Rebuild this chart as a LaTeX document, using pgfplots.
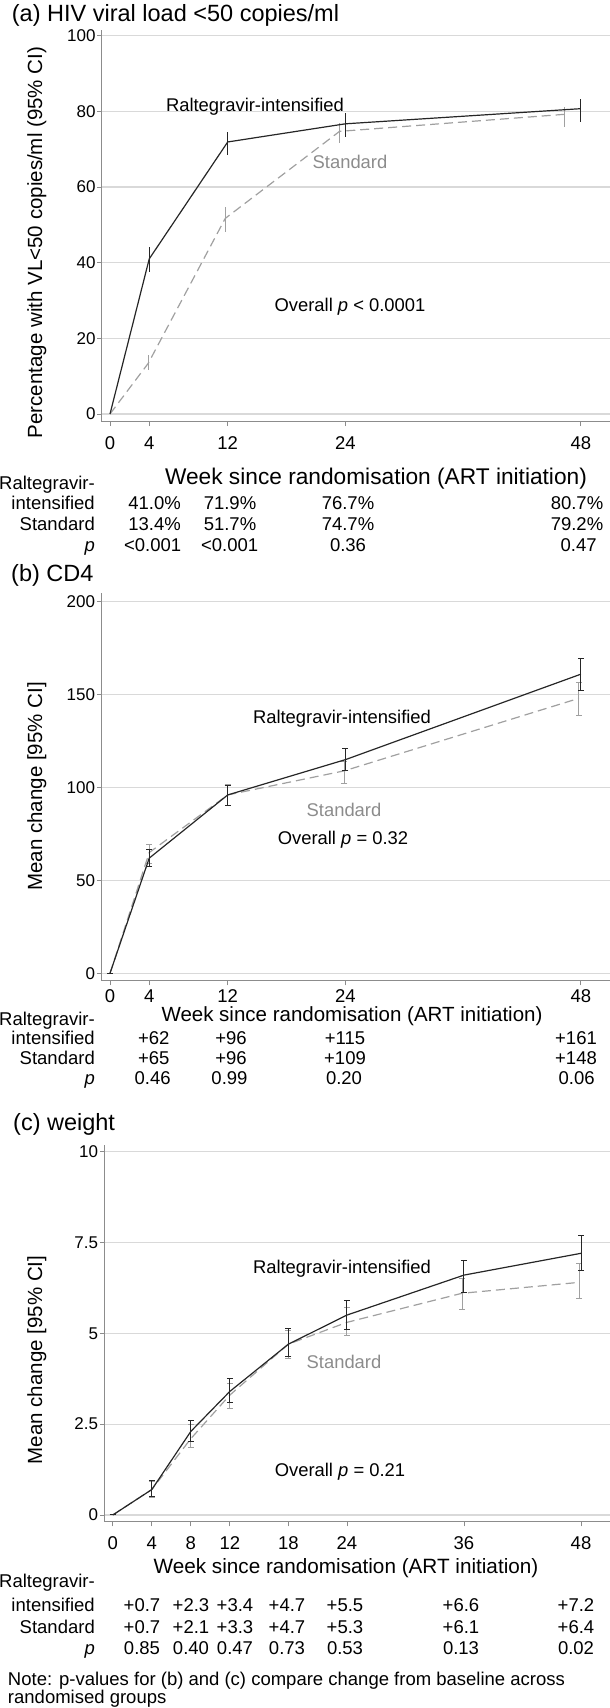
\documentclass[border=0pt]{standalone}
\usepackage{fontspec}
\setmainfont{Liberation Sans}
\usepackage{pgfplots}
\usepackage{pgfplotstable}
\pgfplotsset{compat=1.18}
\definecolor{axgray}{HTML}{8C8C8C}
\definecolor{gridgray}{HTML}{D9D9D9}
\definecolor{rcol}{HTML}{262626}
\definecolor{scol}{HTML}{A0A0A0}
\definecolor{stext}{HTML}{8C8C8C}
\newcommand{\fs}[1]{\fontsize{#1}{#1}\selectfont}

% panel (a)
\pgfplotstableread{
x y ep em
0 0 0 0
4 41.0 3.1 3.5
12 71.9 2.6 3.4
24 76.7 2.9 3.4
48 80.7 2.5 3.4
}\tabAR
\pgfplotstableread{
x y ep em
0 0 0 0
3.9 13.4 2.2 1.8
11.75 51.7 3.0 3.6
23.4 74.7 2.2 3.1
46.3 79.2 2.0 3.3
}\tabAS
% panel (b)
\pgfplotstableread{
x y ep em
0 0 0 0
4 62 4.4 4.6
12 96 5.3 5.9
24 115 6.1 5.6
48 161 8.5 8.9
}\tabBR
\pgfplotstableread{
x y ep em
0 0 0 0
4 65 4.2 5.8
12 96 5.5 5.5
23.9 109 4.9 6.7
47.8 148 8.4 9.5
}\tabBS
% panel (c)
\pgfplotstableread{
x y ep em
0 0 0 0
4 0.7 0.24 0.20
8 2.3 0.29 0.28
12 3.4 0.36 0.30
18 4.7 0.43 0.34
24 5.5 0.40 0.41
36 6.6 0.40 0.48
48 7.2 0.48 0.47
}\tabCR
\pgfplotstableread{
x y ep em
0 0 0 0
4 0.7 0.22 0.22
8 2.1 0.38 0.24
12 3.3 0.32 0.36
18 4.7 0.37 0.39
24 5.3 0.42 0.37
35.8 6.1 0.41 0.44
47.8 6.4 0.51 0.44
}\tabCS

\pgfplotsset{
  panel/.style={
    scale only axis,
    anchor=south west,
    axis x line*=bottom,
    axis y line*=left,
    axis line style={draw=axgray, line width=1pt, -},
    tick style={draw=axgray, line width=0.8pt},
    major tick length=4.5pt,
    tick align=outside,
    ymajorgrids,
    grid style={draw=gridgray, line width=1.2pt},
    /pgf/number format/assume math mode=true,
    xticklabel style={font=\fs{18.5}, yshift=-7pt},
    yticklabel style={font=\fs{17}, inner sep=1.5pt},
    clip=false,
  },
  rline/.style={color=rcol, line width=1.2pt, mark=none, solid},
  sline/.style={color=scol, line width=1.2pt, mark=none, dash pattern=on 9pt off 5pt},
}

\begin{document}
\begin{tikzpicture}
\path[use as bounding box] (0,0) rectangle (610pt,1708pt);

% ---------- panel (a)
\begin{axis}[panel,
  at={(101.7pt,1286.3pt)}, width=508.3pt, height=391.7pt,
  xmin=-0.846, xmax=50.97, ymin=-2.035, ymax=101.5,
  xtick={0,4,12,24,48}, ytick={0,20,40,60,80,100}]
\addplot[sline, error bars/.cd, y dir=both, y explicit, error mark=none,
  error bar style={scol, solid, line width=1pt}]
  table[x=x, y=y, y error plus=ep, y error minus=em] {\tabAS};
\addplot[rline, error bars/.cd, y dir=both, y explicit, error mark=none,
  error bar style={rcol, solid, line width=1pt}]
  table[x=x, y=y, y error plus=ep, y error minus=em] {\tabAR};
\end{axis}

% ---------- panel (b)
\begin{axis}[panel,
  at={(101.3pt,727pt)}, width=508.7pt, height=388pt,
  xmin=-0.887, xmax=50.97, ymin=-4.14, ymax=204.7,
  xtick={0,4,12,24,48}, ytick={0,50,100,150,200},
  xticklabel style={yshift=6pt}]
\addplot[sline, error bars/.cd, y dir=both, y explicit,
  error mark options={rotate=90, scol, mark size=3pt, line width=1pt, solid},
  error bar style={scol, solid, line width=1pt}]
  table[x=x, y=y, y error plus=ep, y error minus=em] {\tabBS};
\addplot[rline, error bars/.cd, y dir=both, y explicit,
  error mark options={rotate=90, rcol, mark size=3pt, line width=1pt, solid},
  error bar style={rcol, solid, line width=1pt}]
  table[x=x, y=y, y error plus=ep, y error minus=em] {\tabBR};
\end{axis}

% ---------- panel (c)
\begin{axis}[panel,
  at={(104.3pt,186pt)}, width=505.7pt, height=377pt,
  xmin=-0.871, xmax=50.97, ymin=-0.193, ymax=10.18,
  xtick={0,4,8,12,18,24,36,48}, ytick={0,2.5,5,7.5,10},
  yticklabels={0,2.5,5,7.5,10}]
\addplot[sline, error bars/.cd, y dir=both, y explicit,
  error mark options={rotate=90, scol, mark size=3pt, line width=1pt, solid},
  error bar style={scol, solid, line width=1pt}]
  table[x=x, y=y, y error plus=ep, y error minus=em] {\tabCS};
\addplot[rline, error bars/.cd, y dir=both, y explicit,
  error mark options={rotate=90, rcol, mark size=3pt, line width=1pt, solid},
  error bar style={rcol, solid, line width=1pt}]
  table[x=x, y=y, y error plus=ep, y error minus=em] {\tabCR};
\end{axis}

% ---------- texts (y measured downward from top)
\begin{scope}[x=1pt, y=-1pt, yshift=1708pt, every node/.style={inner sep=0pt}]
% panel a
\node[anchor=base west, font=\fs{23.5}] at (11.7,21.5) {(a) HIV viral load <50 copies/ml};
\node[anchor=base, rotate=90, font=\fs{20.5}] at (42,242.5) {Percentage with VL<50 copies/ml (95\% CI)};
\node[anchor=base, font=\fs{22.7}] at (376,485) {Week since randomisation (ART initiation)};
\node[anchor=base, font=\fs{18.4}] at (255,111.6) {Raltegravir-intensified};
\node[anchor=base, font=\fs{18.4}, text=stext] at (350,168.6) {Standard};
\node[anchor=base, font=\fs{18.4}] at (350,311.6) {Overall \textit{p} < 0.0001};
\begin{scope}[every node/.append style={font=\fs{18.5}}]
\node[anchor=base east] at (95,489.6) {Raltegravir-};
\node[anchor=base east] at (95,509.6) {intensified};
\node[anchor=base east] at (95,530.6) {Standard};
\node[anchor=base east] at (95,551.6) {\textit{p}};
\node[anchor=base] at (154.6,509.6) {41.0\%};
\node[anchor=base] at (230,509.6) {71.9\%};
\node[anchor=base] at (348,509.6) {76.7\%};
\node[anchor=base] at (577,509.6) {80.7\%};
\node[anchor=base] at (154.6,530.6) {13.4\%};
\node[anchor=base] at (230,530.6) {51.7\%};
\node[anchor=base] at (348,530.6) {74.7\%};
\node[anchor=base] at (577,530.6) {79.2\%};
\node[anchor=base] at (152.7,551.6) {<0.001};
\node[anchor=base] at (229.7,551.6) {<0.001};
\node[anchor=base] at (348,551.6) {0.36};
\node[anchor=base] at (578.7,551.6) {0.47};
\end{scope}
% panel b
\node[anchor=base west, font=\fs{23.5}] at (11,582) {(b) CD4};
\node[anchor=base, rotate=90, font=\fs{20.5}] at (42,786.5) {Mean change [95\% CI]};
\node[anchor=base, font=\fs{20.5}] at (352,1022) {Week since randomisation (ART initiation)};
\node[anchor=base, font=\fs{18.4}] at (342,723.3) {Raltegravir-intensified};
\node[anchor=base, font=\fs{18.4}, text=stext] at (344,816.6) {Standard};
\node[anchor=base, font=\fs{18.4}] at (343,844.6) {Overall \textit{p} = 0.32};
\begin{scope}[every node/.append style={font=\fs{18.5}}]
\node[anchor=base east] at (95,1025.6) {Raltegravir-};
\node[anchor=base east] at (95,1044.6) {intensified};
\node[anchor=base east] at (95,1064.6) {Standard};
\node[anchor=base east] at (95,1084.6) {\textit{p}};
\node[anchor=base] at (153.7,1044.6) {+62};
\node[anchor=base] at (231,1044.6) {+96};
\node[anchor=base] at (345,1044.6) {+115};
\node[anchor=base] at (576,1044.6) {+161};
\node[anchor=base] at (153.7,1064.6) {+65};
\node[anchor=base] at (231,1064.6) {+96};
\node[anchor=base] at (345,1064.6) {+109};
\node[anchor=base] at (576,1064.6) {+148};
\node[anchor=base] at (152.6,1084.6) {0.46};
\node[anchor=base] at (229.5,1084.6) {0.99};
\node[anchor=base] at (344,1084.6) {0.20};
\node[anchor=base] at (576.6,1084.6) {0.06};
\end{scope}
% panel c
\node[anchor=base west, font=\fs{23.5}] at (13,1131) {(c) weight};
\node[anchor=base, rotate=90, font=\fs{20.5}] at (42,1360) {Mean change [95\% CI]};
\node[anchor=base, font=\fs{20.7}] at (346,1573.4) {Week since randomisation (ART initiation)};
\node[anchor=base, font=\fs{18.4}] at (342,1273.3) {Raltegravir-intensified};
\node[anchor=base, font=\fs{18.4}, text=stext] at (344,1368.3) {Standard};
\node[anchor=base, font=\fs{18.4}] at (340,1476.6) {Overall \textit{p} = 0.21};
\begin{scope}[every node/.append style={font=\fs{18.5}}]
\node[anchor=base east] at (95,1588) {Raltegravir-};
\node[anchor=base east] at (95,1612) {intensified};
\node[anchor=base east] at (95,1634) {Standard};
\node[anchor=base east] at (95,1655) {\textit{p}};
\node[anchor=base] at (142,1612) {+0.7};
\node[anchor=base] at (191,1612) {+2.3};
\node[anchor=base] at (235,1612) {+3.4};
\node[anchor=base] at (287,1612) {+4.7};
\node[anchor=base] at (345,1612) {+5.5};
\node[anchor=base] at (461,1612) {+6.6};
\node[anchor=base] at (576,1612) {+7.2};
\node[anchor=base] at (142,1634) {+0.7};
\node[anchor=base] at (191,1634) {+2.1};
\node[anchor=base] at (235,1634) {+3.3};
\node[anchor=base] at (287,1634) {+4.7};
\node[anchor=base] at (345,1634) {+5.3};
\node[anchor=base] at (461,1634) {+6.1};
\node[anchor=base] at (576,1634) {+6.4};
\node[anchor=base] at (142,1655) {0.85};
\node[anchor=base] at (191,1655) {0.40};
\node[anchor=base] at (235,1655) {0.47};
\node[anchor=base] at (287,1655) {0.73};
\node[anchor=base] at (345,1655) {0.53};
\node[anchor=base] at (461,1655) {0.13};
\node[anchor=base] at (576,1655) {0.02};
\node[anchor=base west] at (7.8,1686) {Note: p-values for (b) and (c) compare change from baseline across};
\node[anchor=base west] at (7.8,1703) {randomised groups};
\end{scope}
\end{scope}
\end{tikzpicture}
\end{document}
